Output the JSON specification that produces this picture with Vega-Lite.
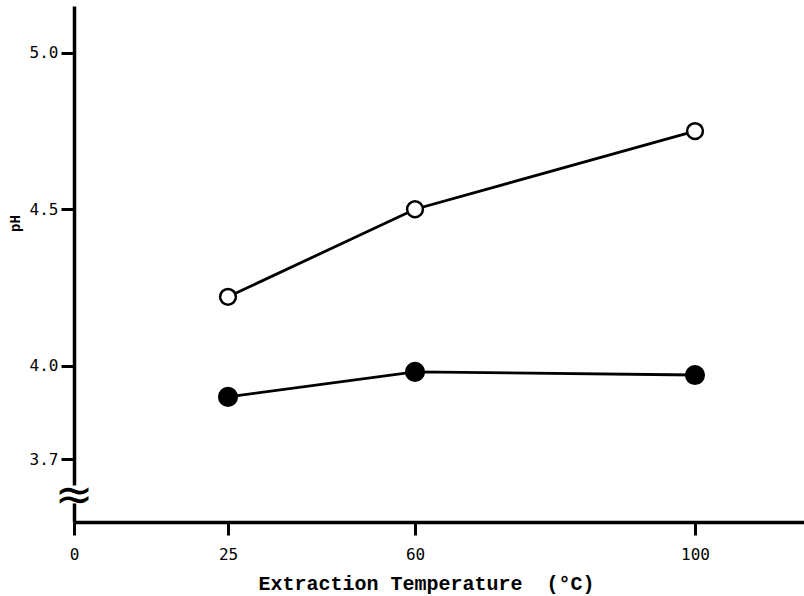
{
  "$schema": "https://vega.github.io/schema/vega-lite/v6.json",
  "autosize": "none",
  "width": 730,
  "height": 516,
  "padding": {"left": 74, "top": 6, "right": 0, "bottom": 74},
  "background": "white",
  "config": {"view": {"stroke": null}},
  "datasets": {
    "ph": [
      {"temp": 25, "pH": 4.22, "series": "open"},
      {"temp": 60, "pH": 4.50, "series": "open"},
      {"temp": 100, "pH": 4.75, "series": "open"},
      {"temp": 25, "pH": 3.90, "series": "filled"},
      {"temp": 60, "pH": 3.98, "series": "filled"},
      {"temp": 100, "pH": 3.97, "series": "filled"}
    ],
    "brk": [{"temp": 0, "pH": 3.588, "sym": "≈"}]
  },
  "layer": [
    {
      "data": {"name": "ph"},
      "mark": {"type": "line", "color": "black", "strokeWidth": 2.8},
      "encoding": {
        "x": {
          "field": "temp", "type": "quantitative",
          "scale": {"domain": [0, 25, 60, 100, 120], "range": [0, 154, 341, 621, 730], "nice": false, "zero": false},
          "axis": {
            "values": [0, 25, 60, 100],
            "grid": false,
            "labelFlush": false,
            "labelOverlap": false,
            "domainColor": "black", "domainWidth": 3.5,
            "tickColor": "black", "tickWidth": 3, "tickSize": 13,
            "labelFont": "DejaVu Sans Mono", "labelFontSize": 16, "labelColor": "black", "labelPadding": 11,
            "title": "Extraction Temperature\u00a0\u00a0(°C)",
            "titleFont": "Liberation Mono", "titleFontSize": 20, "titleFontWeight": "bold", "titleColor": "black",
            "titleX": 352, "titleY": 61, "titleAlign": "center", "titleBaseline": "middle"
          }
        },
        "y": {
          "field": "pH", "type": "quantitative",
          "scale": {"domain": [3.5, 5.15], "nice": false, "zero": false},
          "axis": {
            "values": [3.7, 4.0, 4.5, 5.0],
            "format": ".1f",
            "grid": false,
            "labelFlush": false,
            "labelOverlap": false,
            "domainColor": "black", "domainWidth": 3.5,
            "tickColor": "black", "tickWidth": 3, "tickSize": 13,
            "labelFont": "DejaVu Sans Mono", "labelFontSize": 16, "labelColor": "black", "labelPadding": 3,
            "title": "pH",
            "titleFont": "Liberation Mono", "titleFontSize": 14, "titleFontWeight": "bold", "titleColor": "black",
            "titleX": -59, "titleY": 217, "titleAlign": "center", "titleBaseline": "middle", "titleAngle": -90
          }
        },
        "detail": {"field": "series"}
      }
    },
    {
      "data": {"name": "ph"},
      "mark": {"type": "point", "filled": true, "stroke": "black", "strokeWidth": 2.5, "opacity": 1},
      "encoding": {
        "x": {"field": "temp", "type": "quantitative"},
        "y": {"field": "pH", "type": "quantitative"},
        "fill": {"field": "series", "type": "nominal", "scale": {"domain": ["filled", "open"], "range": ["black", "white"]}, "legend": null},
        "size": {"field": "series", "type": "nominal", "scale": {"domain": ["filled", "open"], "range": [310, 250]}, "legend": null}
      }
    },
    {
      "data": {"name": "brk"},
      "mark": {"type": "point", "shape": "square", "filled": true, "color": "white", "size": 324, "opacity": 1},
      "encoding": {
        "x": {"field": "temp", "type": "quantitative"},
        "y": {"field": "pH", "type": "quantitative"}
      }
    },
    {
      "data": {"name": "brk"},
      "mark": {"type": "text", "font": "DejaVu Sans", "fontSize": 46, "color": "black", "align": "center", "baseline": "middle", "dy": 2},
      "encoding": {
        "x": {"field": "temp", "type": "quantitative"},
        "y": {"field": "pH", "type": "quantitative"},
        "text": {"field": "sym"}
      }
    }
  ]
}
